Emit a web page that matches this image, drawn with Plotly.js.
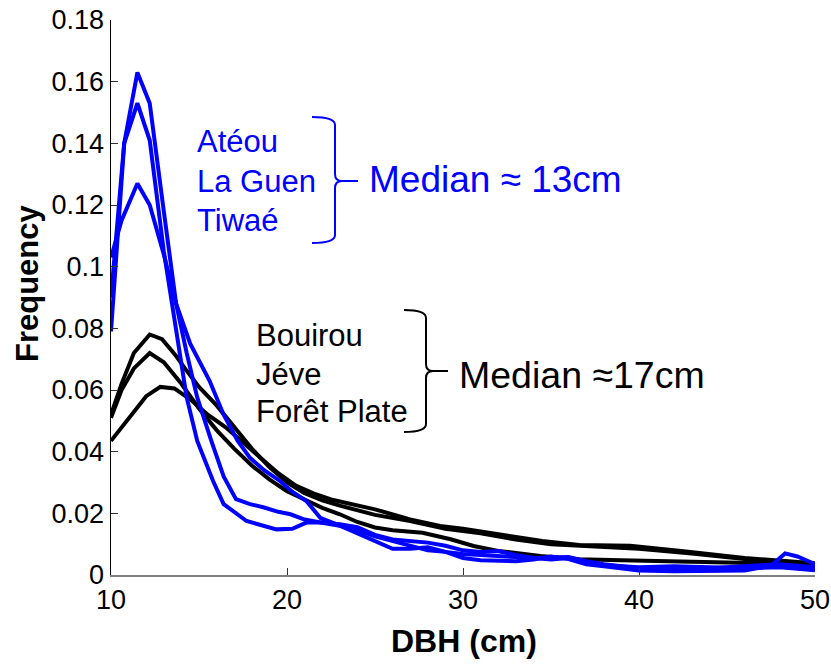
<!DOCTYPE html>
<html><head><meta charset="utf-8">
<script src="https://cdn.plot.ly/plotly-3.0.1.min.js"></script>
<style>html,body{margin:0;padding:0;background:#fff}#chart{width:831px;height:666px}</style>
</head><body><div id="chart"></div>
<script>
// Blue sites (Median ≈ 13cm)
const blueA_x = [10,10.75,11.5,12.2,13,13.7,14.3,14.9,15.7,16.4,17.1,17.9,18.7,19.5,20.2,21,21.9,23,24,25,26,27,28,29,30,31,32,33,34,35,36,37,38,40,42,44,46,48,50];
const blueA_y = [0.09,0.14,0.163,0.153,0.118,0.088,0.072,0.0576,0.0435,0.032,0.0246,0.023,0.0219,0.0205,0.0197,0.018,0.017,0.0165,0.0155,0.013,0.0115,0.011,0.0105,0.0095,0.008,0.0075,0.0078,0.0065,0.0055,0.005,0.0055,0.004,0.0032,0.0025,0.0028,0.0025,0.0022,0.0025,0.0015];
const blueB_x = [10,10.75,11.5,12.2,13,13.7,14.3,14.9,15.8,16.4,17.7,19.4,20.3,21.1,21.9,23,24,25,26,27,28,29,30,31,32,33,34,35,36,37,38,40,42,44,46,47.5,48.3,49,50];
const blueB_y = [0.079,0.14,0.153,0.141,0.105,0.08,0.0576,0.0435,0.0305,0.023,0.0175,0.0148,0.015,0.017,0.017,0.016,0.0135,0.011,0.0085,0.0085,0.009,0.0075,0.0055,0.0048,0.0045,0.0045,0.005,0.006,0.0052,0.0035,0.0028,0.0015,0.0012,0.0015,0.0015,0.003,0.007,0.006,0.0035];
const blueC_x = [10,10.6,11.5,12.2,13,13.7,14.5,15.6,16.4,17.2,17.9,18.7,19.6,20.3,21.1,21.9,23,24.1,25,26,27,28,29,30,31,32,33,34,35,36,37,38,40,42,44,46,48,50];
const blueC_y = [0.103,0.115,0.127,0.12,0.104,0.088,0.075,0.063,0.052,0.0435,0.038,0.034,0.0305,0.027,0.024,0.0185,0.016,0.0143,0.0125,0.011,0.0095,0.008,0.0075,0.0068,0.0065,0.006,0.0058,0.0055,0.0055,0.0058,0.0045,0.0035,0.0022,0.002,0.0022,0.003,0.0035,0.0025];
// Black sites (Median ≈ 17cm)
const blackA_x = [10,10.6,11.3,12.2,12.9,13.7,14.2,15,16,17,18,19,20,21,22,23,24,25,27,29,31,33,35,37,40,43,46,50];
const blackA_y = [0.052,0.062,0.072,0.078,0.0765,0.071,0.067,0.061,0.055,0.048,0.041,0.035,0.030,0.0265,0.0242,0.0225,0.021,0.0195,0.0175,0.015,0.0135,0.0115,0.010,0.0093,0.0085,0.007,0.0052,0.0032];
const blackB_x = [10,10.6,11.3,12.2,13,14,15,16,17,18,19,20,21,22,23,24,25,26,27.7,29.3,30.6,32,34.4,36.6,39,41,44.5,47,50];
const blackB_y = [0.051,0.06,0.067,0.072,0.069,0.062,0.054,0.047,0.041,0.0355,0.031,0.0272,0.0245,0.0218,0.0197,0.0172,0.0154,0.0145,0.0137,0.0116,0.0094,0.0078,0.0062,0.0051,0.0048,0.0045,0.0042,0.0038,0.0028];
const blackC_x = [10,11,12,12.8,13.6,14.5,15.5,16.5,17.5,18.5,19.5,20.5,21.5,22.5,23.5,25,27,28.7,30,32.5,34.5,36.6,39.5,42.4,46,50];
const blackC_y = [0.0435,0.051,0.058,0.061,0.0605,0.057,0.052,0.048,0.043,0.038,0.033,0.029,0.0265,0.0245,0.0232,0.0213,0.018,0.0159,0.015,0.0127,0.011,0.0097,0.0095,0.0078,0.0055,0.0038];

const xTicks = [10,20,30,40,50];
const yTicks = [0,0.02,0.04,0.06,0.08,0.1,0.12,0.14,0.16,0.18];
const blueNames = ['Atéou','La Guen','Tiwaé'];
const blackNames = ['Bouirou','Jéve','Forêt Plate'];
const blueMedian = 'Median ≈ 13cm';
const blackMedian = 'Median ≈17cm';
const xTitle = 'DBH (cm)';
const yTitle = 'Frequency';

const BLUE = 'rgb(0,0,255)';
const mk = (x,y,c,n)=>({x:x,y:y,type:'scatter',mode:'lines',name:n,line:{color:c,width:4},hoverinfo:'skip'});
const traces = [
  mk(blackA_x,blackA_y,'#000','Bouirou'), mk(blackB_x,blackB_y,'#000','Jéve'), mk(blackC_x,blackC_y,'#000','Forêt Plate'),
  mk(blueA_x,blueA_y,BLUE,'Atéou'), mk(blueB_x,blueB_y,BLUE,'La Guen'), mk(blueC_x,blueC_y,BLUE,'Tiwaé')
];

// geometry helpers (pixel -> data / paper) for annotation decorations
const L=111, R=16, T=20, B=91, W=831, H=666;
const PW=W-L-R, PH=H-B-T;
const px2x = p => 10 + (p-L)/PW*40;
const py2y = p => (H-B-p)/PH*0.18;
const px2p = p => (p-L)/PW;
const py2p = p => (H-B-p)/PH;
function brace(xl, xc, xs, yt, ym, yb){
  const P=(a,b)=>px2x(a)+','+py2y(b);
  return 'M'+P(xl,yt)+' Q'+P(xc,yt)+' '+P(xc,yt+8)+' L'+P(xc,ym-7)+' Q'+P(xc,ym)+' '+P(xc+7,ym)+' L'+P(xs,ym)+
         ' M'+P(xc+7,ym)+' Q'+P(xc,ym)+' '+P(xc,ym+7)+' L'+P(xc,yb-8)+' Q'+P(xc,yb)+' '+P(xl,yb);
}

const FONT = 'Liberation Sans, Arial, sans-serif';
const ann = [];
const blueY = [141,181,220], blackY = [335,374,411];
blueNames.forEach((t,i)=>ann.push({x:px2x(195),y:py2y(blueY[i]),xref:'x',yref:'y',text:t,showarrow:false,xanchor:'left',yanchor:'middle',font:{family:FONT,size:31,color:BLUE}}));
blackNames.forEach((t,i)=>ann.push({x:px2x(254),y:py2y(blackY[i]),xref:'x',yref:'y',text:t,showarrow:false,xanchor:'left',yanchor:'middle',font:{family:FONT,size:31,color:'#000'}}));
ann.push({x:px2x(367),y:py2y(179),xref:'x',yref:'y',text:blueMedian,showarrow:false,xanchor:'left',yanchor:'middle',font:{family:FONT,size:37,color:BLUE}});
ann.push({x:px2x(457),y:py2y(375),xref:'x',yref:'y',text:blackMedian,showarrow:false,xanchor:'left',yanchor:'middle',font:{family:FONT,size:37.5,color:'#000'}});
// axis titles
ann.push({x:px2p(464),y:py2p(641),xref:'paper',yref:'paper',text:'<b>'+xTitle+'</b>',showarrow:false,xanchor:'center',yanchor:'middle',font:{family:FONT,size:32,color:'#000'}});
ann.push({x:px2p(27),y:py2p(283),xref:'paper',yref:'paper',text:'<b>'+yTitle+'</b>',textangle:-90,showarrow:false,xanchor:'center',yanchor:'middle',font:{family:FONT,size:31,color:'#000'}});

const layout = {
  width:W, height:H, margin:{l:L,r:R,t:T,b:B},
  paper_bgcolor:'#fff', plot_bgcolor:'#fff', showlegend:false,
  font:{family:FONT,color:'#000'},
  xaxis:{range:[10,50],tickvals:xTicks,ticktext:xTicks.map(String),ticks:'inside',ticklen:7,tickcolor:'#333',
         showline:true,linecolor:'#808080',linewidth:2,showgrid:false,zeroline:false,tickfont:{size:27,family:FONT}},
  yaxis:{range:[0,0.18],tickvals:yTicks,ticktext:yTicks.map(String),ticks:'inside',ticklen:7,tickcolor:'#333',
         showline:true,linecolor:'#000',linewidth:1.5,showgrid:false,zeroline:false,tickfont:{size:27,family:FONT}},
  annotations:ann,
  shapes:[
    {type:'path',xref:'x',yref:'y',path:brace(312,335,358,117,181,243),line:{color:BLUE,width:2}},
    {type:'path',xref:'x',yref:'y',path:brace(404,426,448,310,371,432),line:{color:'#000',width:2}}
  ]
};
Plotly.newPlot('chart',traces,layout,{displayModeBar:false,staticPlot:true});
</script></body></html>
